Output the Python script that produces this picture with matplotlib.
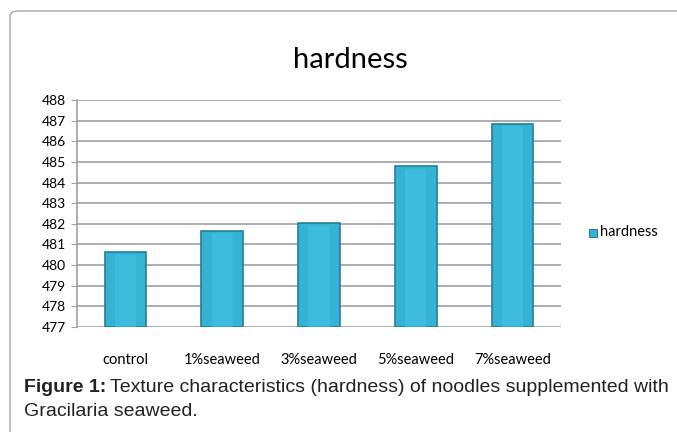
import numpy as np
import matplotlib.pyplot as plt
from matplotlib.patches import FancyBboxPatch

categories = ['control', '1%seaweed', '3%seaweed', '5%seaweed', '7%seaweed']
hardness = [480.62, 481.66, 482.02, 484.8, 486.85]
yticks = list(range(477, 489))

W, H = 677, 432
fig = plt.figure(figsize=(W / 100, H / 100), dpi=100)

# outer rounded frame, runs off the right and bottom edges
frame = FancyBboxPatch((10 / W, -0.5), 1.0, 1.5 - 11 / H, boxstyle='round,pad=0,rounding_size=0.012',
                       transform=fig.transFigure, fill=False, edgecolor='#a6a6a6', lw=1.0)
fig.patches.append(frame)

ax = fig.add_axes([77 / W, 1 - 327 / H, (561 - 77) / W, (327 - 100) / H])
x = np.arange(len(categories))
ax.bar(x, [v - 477 for v in hardness], bottom=477, width=0.43,
       color='#35b2d4', edgecolor='#237f9b', linewidth=1.2, zorder=3)
# lighter highlight in the middle of each bar
ax.bar(x, [v - 477 - 0.12 for v in hardness], bottom=477, width=0.22,
       color='#45c3e3', linewidth=0, zorder=3, alpha=0.6)

ax.set_xlim(-0.5, 4.5)
ax.set_ylim(477, 488)
ax.set_yticks(yticks)
ax.set_yticklabels([str(t) for t in yticks], fontsize=10, family='Lato')
ax.set_xticks(x)
ax.set_xticklabels(categories, fontsize=10.5, family='Lato')
ax.tick_params(axis='x', length=0, pad=19)
ax.tick_params(axis='y', length=4, color='#a0a0a0', pad=4)
ax.grid(axis='y', color='#a0a0a0', lw=1.2, zorder=0)
for s in ['top', 'right', 'bottom']:
    ax.spines[s].set_visible(False)
ax.spines['left'].set_color('#a0a0a0')
ax.spines['left'].set_linewidth(1.2)

fig.text(350 / W, 1 - 60 / H, 'hardness', fontsize=21, family='Lato',
         ha='center', va='center')

# legend
fig.patches.append(plt.Rectangle((589 / W, 1 - 237 / H), 8 / W, 8 / H, transform=fig.transFigure,
                                 facecolor='#35b2d4', edgecolor='#237f9b', lw=0.8))
fig.text(600 / W, 1 - 232 / H, 'hardness', fontsize=10.5, family='Lato', va='center')

# caption with bold lead
bold = fig.text(24 / W, 1 - 387 / H, 'Figure 1:', fontsize=14, family='Liberation Sans',
                weight='bold', va='center', color='#222222')
fig.canvas.draw()
bb = bold.get_window_extent()
fig.text((bb.x1 + 4) / W, 1 - 387 / H,
         'Texture characteristics (hardness) of noodles supplemented with',
         fontsize=14, family='Liberation Sans', va='center', color='#222222')
fig.text(24 / W, 1 - 411 / H, 'Gracilaria seaweed.', fontsize=14, family='Liberation Sans',
         va='center', color='#222222')

fig.savefig('out.png', dpi=100)
